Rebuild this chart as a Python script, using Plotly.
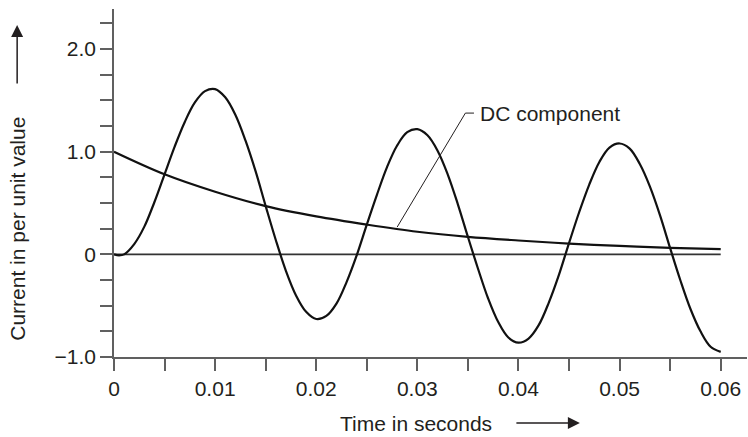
import plotly.graph_objects as go

# Time axis (s)
t = [0.000, 0.0005, 0.001, 0.002, 0.003, 0.004, 0.005, 0.006, 0.007, 0.008, 0.009,
     0.010, 0.011, 0.012, 0.013, 0.014, 0.015, 0.016, 0.017, 0.018, 0.019,
     0.020, 0.021, 0.022, 0.023, 0.024, 0.025, 0.026, 0.027, 0.028, 0.029,
     0.030, 0.031, 0.032, 0.033, 0.034, 0.035, 0.036, 0.037, 0.038, 0.039,
     0.040, 0.041, 0.042, 0.043, 0.044, 0.045, 0.046, 0.047, 0.048, 0.049,
     0.050, 0.051, 0.052, 0.053, 0.054, 0.055, 0.056, 0.057, 0.058, 0.059, 0.060]

# Total (asymmetrical) current, per unit
current = [0.00, -0.01, 0.00, 0.10, 0.27, 0.51, 0.78, 1.05, 1.29, 1.48, 1.59,
           1.61, 1.53, 1.36, 1.11, 0.81, 0.47, 0.14, -0.16, -0.40, -0.56,
           -0.63, -0.60, -0.48, -0.27, -0.01, 0.29, 0.58, 0.85, 1.06, 1.19,
           1.22, 1.16, 1.01, 0.78, 0.49, 0.17, -0.14, -0.43, -0.66, -0.81,
           -0.86, -0.82, -0.69, -0.47, -0.20, 0.11, 0.41, 0.68, 0.90, 1.04,
           1.08, 1.03, 0.88, 0.66, 0.38, 0.06, -0.25, -0.53, -0.75, -0.90, -0.95]

# DC component, per unit
t_dc = [0.000, 0.005, 0.010, 0.015, 0.020, 0.025, 0.030, 0.035, 0.040, 0.045, 0.050, 0.055, 0.060]
dc = [1.00, 0.78, 0.61, 0.47, 0.37, 0.29, 0.22, 0.17, 0.135, 0.105, 0.082, 0.064, 0.05]

# Zero reference line
t_zero = [0.0, 0.06]
zero = [0.0, 0.0]

FONT = "Liberation Sans, Arial, Helvetica, sans-serif"
INK = "#231f20"
AXIS = "#606060"
FS = 21

fig = go.Figure()
fig.add_trace(go.Scatter(x=t_zero, y=zero, mode="lines",
                         line=dict(color="#333333", width=1.6), hoverinfo="skip"))
fig.add_trace(go.Scatter(x=t_dc, y=dc, mode="lines", line_shape="spline",
                         line=dict(color="#111111", width=2.2)))
fig.add_trace(go.Scatter(x=t, y=current, mode="lines", line_shape="spline",
                         line=dict(color="#111111", width=2.2)))

# DC component label with leader line
fig.add_shape(type="line", x0=0.0280, y0=0.265, x1=0.03475, y1=1.376,
              line=dict(color=INK, width=1))
fig.add_shape(type="line", x0=0.03475, y0=1.376, x1=0.0356, y1=1.376,
              line=dict(color=INK, width=1))
fig.add_annotation(x=0.0360, y=1.376, text="DC component", showarrow=False,
                   xanchor="left", yanchor="middle",
                   font=dict(family=FONT, size=FS, color=INK))

# Axis titles as annotations with arrows
fig.add_annotation(xref="paper", yref="paper", x=-0.153, y=0.369,
                   text="Current in per unit value", textangle=-90, showarrow=False,
                   xanchor="center", yanchor="middle",
                   font=dict(family=FONT, size=FS, color=INK))
fig.add_annotation(xref="paper", yref="paper", x=-0.153, y=0.954, ax=0, ay=60,
                   text="", showarrow=True, arrowhead=2, arrowsize=1.6, arrowwidth=1.5,
                   arrowcolor=INK)
fig.add_annotation(xref="paper", yref="paper", x=0.477, y=-0.19,
                   text="Time in seconds", showarrow=False,
                   xanchor="center", yanchor="middle",
                   font=dict(family=FONT, size=FS, color=INK))
fig.add_annotation(xref="paper", yref="paper", x=0.736, y=-0.19, ax=-65, ay=0,
                   text="", showarrow=True, arrowhead=2, arrowsize=1.6, arrowwidth=1.5,
                   arrowcolor=INK)

fig.update_layout(
    width=748, height=437,
    margin=dict(l=114, r=1, t=9, b=80),
    paper_bgcolor="white", plot_bgcolor="white",
    showlegend=False,
    font=dict(family=FONT, size=FS, color=INK),
)
fig.update_xaxes(range=[0, 0.0626], showgrid=False, zeroline=False,
                 showline=True, linecolor=AXIS, linewidth=1.5,
                 tickmode="linear", tick0=0, dtick=0.01,
                 ticks="outside", ticklen=12, tickwidth=1.5, tickcolor=AXIS,
                 minor=dict(dtick=0.005, tick0=0, ticks="outside", ticklen=12,
                            tickwidth=1.5, tickcolor=AXIS, showgrid=False),
                 tickfont=dict(family=FONT, size=FS, color=INK))
fig.update_yaxes(range=[-1.0, 2.39], showgrid=False, zeroline=False,
                 showline=True, linecolor=AXIS, linewidth=1.5,
                 tickmode="linear", tick0=0, dtick=1, tickformat=".1f",
                 labelalias={"0.0": "0"},
                 ticks="outside", ticklen=12, tickwidth=1.5, tickcolor=AXIS,
                 minor=dict(dtick=0.25, tick0=0, ticks="outside", ticklen=12,
                            tickwidth=1.5, tickcolor=AXIS, showgrid=False),
                 tickfont=dict(family=FONT, size=FS, color=INK))

fig.write_html("out.html", config={"displayModeBar": False},
               post_script="document.body.style.margin='0';document.body.style.padding='0';")
